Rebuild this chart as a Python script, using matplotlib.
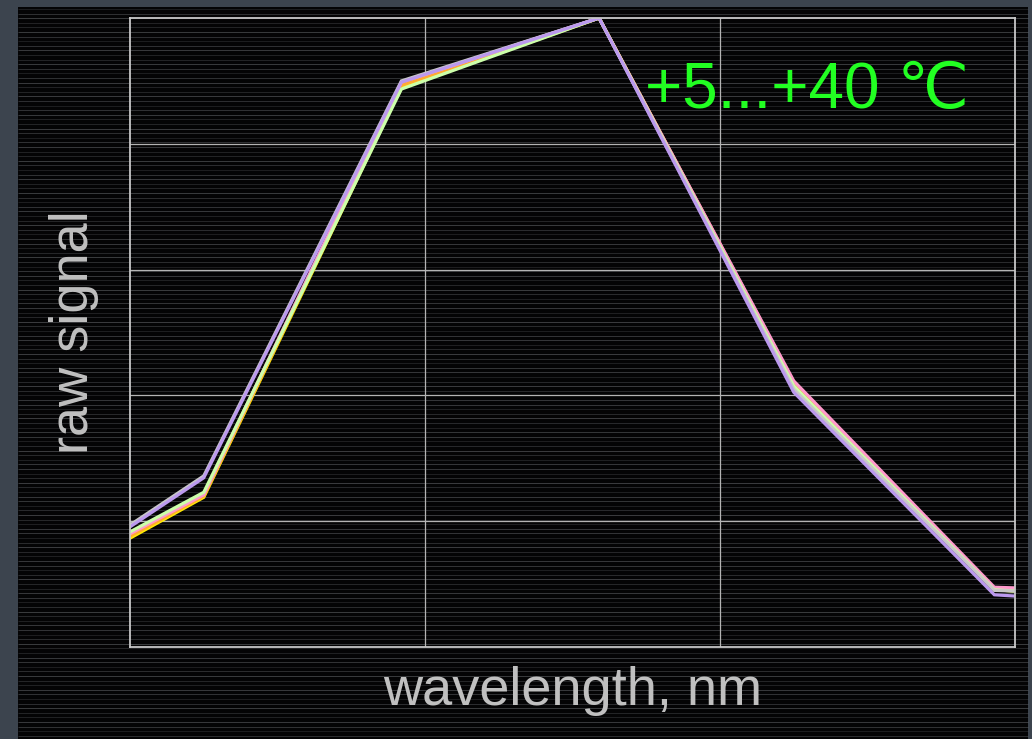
import numpy as np
import matplotlib
matplotlib.use("Agg")
import matplotlib.pyplot as plt
from matplotlib.patches import Rectangle
from matplotlib.collections import LineCollection

# wavelength positions of the sampled channels (nm)
wavelength = [400, 425, 492, 559, 625, 693, 700]

# normalised raw signal per temperature run
sig_white  = [0.194, 0.272, 0.900, 1.0, 0.410, 0.090, 0.089]
sig_yellow = [0.173, 0.238, 0.890, 1.0, 0.420, 0.091, 0.089]
sig_orange = [0.176, 0.240, 0.893, 1.0, 0.421, 0.092, 0.091]
sig_pink   = [0.180, 0.242, 0.898, 1.0, 0.423, 0.095, 0.094]
sig_green  = [0.183, 0.246, 0.887, 1.0, 0.415, 0.091, 0.089]
sig_purple = [0.191, 0.269, 0.898, 1.0, 0.405, 0.083, 0.081]

series = [
    (sig_yellow, "#ffee00"),
    (sig_orange, "#ffaa33"),
    (sig_pink, "#ff99cc"),
    (sig_green, "#ccffaa"),
    (sig_white, "#c8c8c8"),
    (sig_purple, "#bb99ee"),
]

W, H = 1032, 739
fig = plt.figure(figsize=(W / 100, H / 100), dpi=100, facecolor="#3c444e")

# dark panel
fig.add_artist(Rectangle((18 / W, 0), 1010 / W, (H - 7) / H,
                         transform=fig.transFigure, facecolor="#040405",
                         edgecolor="none", zorder=-3))

# horizontal scan-line texture on the panel
ys = np.arange(H - 9, 0, -4.6)
segs = [[(18 / W, y / H), (1028 / W, y / H)] for y in ys]
shade = 0.22 + 0.25 * (np.sin(np.arange(len(ys)) * 0.9) ** 2)
cols = [(0.46, 0.47, 0.49, a) for a in shade]
fig.add_artist(LineCollection(segs, colors=cols, linewidths=0.75,
                              transform=fig.transFigure, zorder=-2))

ax = fig.add_axes([130 / W, 92 / H, 885 / W, 629 / H])
ax.set_facecolor("none")
ax.set_xlim(400, 700)
ax.set_ylim(0, 1)
ax.set_xticks([500, 600])
ax.set_yticks([0.2, 0.4, 0.6, 0.8])
ax.tick_params(length=0, labelbottom=False, labelleft=False)
ax.grid(True, color="#b4b4b4", linewidth=0.9)
for s in ax.spines.values():
    s.set_color("#c8c8c8")
    s.set_linewidth(1.3)

for vals, c in series:
    ax.plot(wavelength, vals, color=c, linewidth=2.3, solid_joinstyle="miter",
            clip_on=True)

fam = ["Liberation Sans", "DejaVu Sans"]
ax.set_xlabel("wavelength, nm", fontsize=39, color="#c0c0c0", family=fam,
              labelpad=14)
ax.set_ylabel("raw signal", fontsize=39, color="#c0c0c0", family=fam,
              labelpad=22)

fig.text(645 / W, 1 - 108 / H, "+5...+40 ℃", fontsize=46, color="#22ff22",
         family=fam, ha="left", va="baseline")

fig.savefig("out.png", dpi=100, facecolor=fig.get_facecolor())
